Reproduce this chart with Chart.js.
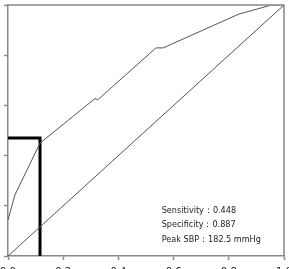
<!DOCTYPE html>
<html>
<head>
<meta charset="utf-8">
<script src="https://cdn.jsdelivr.net/npm/chart.js@4"></script>
<style>
  html, body { margin: 0; padding: 0; background: #fff; overflow: hidden; width: 289px; height: 269px; }
  #wrap { position: absolute; left: -40px; top: 0; width: 329px; height: 290px; }
</style>
</head>
<body>
<div id="wrap"><canvas id="roc"></canvas></div>
<script>
// ROC curve (1 - specificity vs sensitivity)
const rocX = [0, 0.025, 0.116, 0.315, 0.325, 0.536, 0.562, 0.837, 0.851, 0.955, 1];
const rocY = [0.143, 0.243, 0.45, 0.627, 0.622, 0.829, 0.829, 0.964, 0.968, 1, 1];

// reference line
const diagX = [0, 1];
const diagY = [0, 1];

// cut-off box
const cutX = [0, 0.116, 0.116];
const cutY = [0.47, 0.47, 0];

const xTicks = ['0.0', '0.2', '0.4', '0.6', '0.8', '1.0'];

const notes = ['Sensitivity：0.448', 'Specificity：0.887', 'Peak SBP：182.5 mmHg'];

const pts = (xs, ys) => xs.map((x, i) => ({ x, y: ys[i] }));

// top and right edges of the box around the plot
const frame = {
  id: 'frame',
  afterDatasetsDraw(chart) {
    const { ctx, chartArea: a } = chart;
    ctx.save();
    ctx.strokeStyle = '#888';
    ctx.lineWidth = 1.5;
    ctx.beginPath();
    ctx.moveTo(a.left, a.top);
    ctx.lineTo(a.right, a.top);
    ctx.lineTo(a.right, a.bottom);
    ctx.stroke();

    // text block at lower right
    const xs = chart.scales.x, ys = chart.scales.y;
    ctx.fillStyle = '#222';
    ctx.font = '9px "DejaVu Sans Condensed", "DejaVu Sans", sans-serif';
    ctx.textBaseline = 'middle';
    const noteY = [0.18, 0.124, 0.064];
    notes.forEach((t, i) => ctx.fillText(t, xs.getPixelForValue(0.557), ys.getPixelForValue(noteY[i])));
    ctx.restore();
  }
};

new Chart(document.getElementById('roc'), {
  type: 'scatter',
  data: {
    datasets: [
      { data: pts(rocX, rocY), borderColor: '#555', borderWidth: 1 },
      { data: pts(diagX, diagY), borderColor: '#555', borderWidth: 1 },
      { data: pts(cutX, cutY), borderColor: '#000', borderWidth: 3 }
    ]
  },
  options: {
    responsive: true,
    maintainAspectRatio: false,
    animation: false,
    showLine: true,
    elements: { point: { radius: 0 }, line: { tension: 0 } },
    layout: { padding: { top: 5, right: 5, left: 0, bottom: 0 } },
    plugins: { legend: { display: false }, tooltip: { enabled: false } },
    scales: {
      x: {
        type: 'linear', min: 0, max: 1,
        afterFit: s => { s.height = 34; s.paddingLeft = 0; s.paddingRight = 0; },
        grid: { drawOnChartArea: false, tickLength: 4, color: '#888', tickWidth: 1.5 },
        border: { color: '#888', width: 1.5 },
        ticks: {
          stepSize: 0.2, padding: 6, color: '#222', maxRotation: 0,
          font: { family: 'DejaVu Sans', size: 10 },
          callback: (v, i) => xTicks[i]
        }
      },
      y: {
        min: 0, max: 1,
        afterFit: s => { s.width = 48; s.paddingTop = 0; s.paddingBottom = 0; },
        grid: { drawOnChartArea: false, tickLength: 4, color: '#888', tickWidth: 1.5 },
        border: { color: '#888', width: 1.5 },
        ticks: { stepSize: 0.2, padding: 10, color: '#222', font: { family: 'DejaVu Sans', size: 10 } }
      }
    }
  },
  plugins: [frame]
});
</script>
</body>
</html>
